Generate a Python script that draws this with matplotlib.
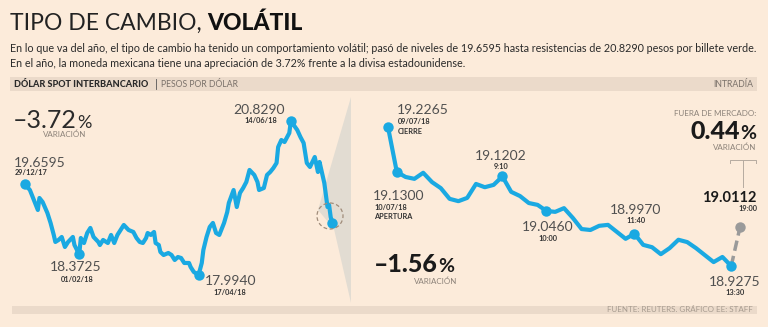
import matplotlib
matplotlib.use("Agg")
import matplotlib.pyplot as plt
import pandas as pd
from matplotlib.patches import Rectangle, Polygon, Circle

plt.rcParams['font.family'] = ['Lato', 'DejaVu Sans']

# ---- data: dólar spot interbancario (pesos por dólar) ----
fechas = ['2017-12-29', '2018-01-01', '2018-01-03', '2018-01-06', '2018-01-07', '2018-01-09',
          '2018-01-12', '2018-01-14', '2018-01-16', '2018-01-17', '2018-01-19', '2018-01-21',
          '2018-01-23', '2018-01-25', '2018-01-28', '2018-01-29', '2018-02-01', '2018-02-02',
          '2018-02-04', '2018-02-06', '2018-02-08', '2018-02-10', '2018-02-13', '2018-02-14',
          '2018-02-16', '2018-02-19', '2018-02-21', '2018-02-23', '2018-02-25', '2018-02-27',
          '2018-03-01', '2018-03-04', '2018-03-07', '2018-03-09', '2018-03-11', '2018-03-13',
          '2018-03-15', '2018-03-16', '2018-03-18', '2018-03-20', '2018-03-21', '2018-03-23',
          '2018-03-24', '2018-03-26', '2018-03-29', '2018-03-31', '2018-04-02', '2018-04-04',
          '2018-04-06', '2018-04-08', '2018-04-11', '2018-04-12', '2018-04-14', '2018-04-17',
          '2018-04-19', '2018-04-20', '2018-04-22', '2018-04-24', '2018-04-26', '2018-04-28',
          '2018-04-30', '2018-05-03', '2018-05-05', '2018-05-06', '2018-05-09', '2018-05-11',
          '2018-05-13', '2018-05-15', '2018-05-17', '2018-05-19', '2018-05-22', '2018-05-24',
          '2018-05-25', '2018-05-28', '2018-05-30', '2018-06-01', '2018-06-03', '2018-06-05',
          '2018-06-06', '2018-06-08', '2018-06-10', '2018-06-13', '2018-06-14', '2018-06-18',
          '2018-06-20', '2018-06-22', '2018-06-24', '2018-06-26', '2018-06-29', '2018-07-01',
          '2018-07-02', '2018-07-05', '2018-07-07', '2018-07-08', '2018-07-09', '2018-07-10']
precio = [19.6595, 19.558, 19.411, 19.190, 19.411, 19.337,
          19.135, 18.951, 18.730, 18.601, 18.638, 18.693,
          18.509, 18.601, 18.693, 18.545, 18.3725, 18.674,
          18.582, 18.766, 18.859, 18.693, 18.601, 18.545,
          18.638, 18.582, 18.730, 18.582, 18.730, 18.822,
          18.914, 18.822, 18.785, 18.674, 18.601, 18.582,
          18.674, 18.766, 18.730, 18.785, 18.582, 18.545,
          18.417, 18.361, 18.398, 18.361, 18.269, 18.324,
          18.306, 18.214, 18.214, 18.140, 18.048, 17.994,
          18.214, 18.453, 18.693, 18.877, 18.951, 18.766,
          18.730, 18.951, 19.153, 19.319, 19.558, 19.245,
          19.503, 19.595, 19.706, 19.927, 19.835, 19.706,
          19.558, 19.595, 19.835, 19.890, 19.963, 20.056,
          20.350, 20.479, 20.442, 20.608, 20.829, 20.663,
          20.534, 20.424, 20.056, 19.982, 20.166, 19.890,
          20.074, 19.687, 19.245, 19.282, 19.061, 18.951]
hitos_fecha = ['2017-12-29', '2018-02-01', '2018-04-17', '2018-06-14', '2018-07-10']

# ---- intradía ----
horas = ['09/07 cierre', '7:10', '7:20', '7:30', '7:40', '7:50', '8:00', '8:10', '8:20', '8:30',
         '8:40', '8:50', '9:00', '9:10', '9:20', '9:30', '9:40', '9:50', '10:00', '10:10',
         '10:20', '10:30', '10:40', '10:50', '11:00', '11:10', '11:20', '11:30', '11:40', '11:50',
         '12:00', '12:10', '12:20', '12:30', '12:40', '12:50', '13:00', '13:10', '13:20', '13:30']
intradia = [19.2265, 19.1300, 19.119, 19.115, 19.128, 19.108, 19.095, 19.072, 19.067, 19.074,
            19.104, 19.097, 19.102, 19.1202, 19.087, 19.078, 19.063, 19.059, 19.046, 19.044,
            19.052, 19.031, 19.007, 19.005, 19.014, 19.016, 19.001, 18.986, 18.997, 18.973,
            18.968, 18.953, 18.966, 18.984, 18.979, 18.966, 18.951, 18.936, 18.947, 18.9275]
hitos_hora = ['09/07 cierre', '7:10', '9:10', '10:00', '11:40', '13:30']
fuera_hora = '19:00'
fuera_valor = 19.0112

BG = '#FCEBDA'
BAND = '#EBDACA'
BLUE = '#1AA9E2'
DARK = '#333333'
GREY = '#8C8279'
NUM = '#505050'

fig = plt.figure(figsize=(7.68, 3.27), dpi=100, facecolor=BG)

# background layer (pixel coordinates)
bg = fig.add_axes([0, 0, 1, 1], zorder=0)
bg.set_xlim(0, 768)
bg.set_ylim(327, 0)
bg.axis('off')
bg.add_patch(Rectangle((10, 77), 747, 13.5, color=BAND, lw=0))
bg.add_patch(Rectangle((12, 306), 745, 7.5, color=BAND, lw=0))
bg.add_patch(Polygon([(351, 97), (318, 210), (334, 229), (351, 303)], closed=True,
                     color='#E2DCD2', lw=0))

# ---- left chart ----
fx = pd.to_datetime(fechas)
axl = fig.add_axes([10 / 768, 1 - 305 / 327, 335 / 768, 210 / 327], zorder=2)
axl.patch.set_alpha(0)
axl.plot(fx, precio, color=BLUE, lw=3.0, solid_joinstyle='round', solid_capstyle='round')
hx = pd.to_datetime(hitos_fecha)
hv = [precio[list(fx).index(d)] for d in hx]
axl.plot(hx, hv, 'o', color=BLUE, ms=7.5, mew=0)
axl.set_xlim(fx[0] - pd.Timedelta(days=9.5), fx[-1] + pd.Timedelta(days=8))
axl.set_ylim(17.44, 21.308)
axl.axis('off')

# ---- right chart ----
axr = fig.add_axes([352 / 768, 1 - 305 / 327, 405 / 768, 210 / 327], zorder=2)
axr.patch.set_alpha(0)
ix = list(range(len(horas)))
axr.plot(ix, intradia, color=BLUE, lw=3.0, solid_joinstyle='round', solid_capstyle='round')
hix = [horas.index(h) for h in hitos_hora]
axr.plot(hix, [intradia[i] for i in hix], 'o', color=BLUE, ms=7.5, mew=0)
axr.plot([ix[-1], ix[-1] + 1], [intradia[-1], fuera_valor], color='#9A9A9A', lw=2.5,
         ls=(0, (3, 1.5)), zorder=1)
axr.plot([ix[-1] + 1], [fuera_valor], 'o', color='#9A9A9A', ms=7.5, mew=0)
axr.set_xlim(-4.09, 41.93)
axr.set_ylim(18.8437, 19.2953)
axr.axis('off')

# ---- text / overlay ----
ov = fig.add_axes([0, 0, 1, 1], zorder=3)
ov.set_xlim(0, 768)
ov.set_ylim(327, 0)
ov.axis('off')
ov.add_patch(Circle((330, 216), 13, fill=False, ec='#A08C7A', lw=0.9, ls=(0, (3, 2))))
renderer = fig.canvas.get_renderer()


def t(x, y, s, size, ha='left', color=DARK, weight='normal', va='baseline'):
    return ov.text(x, y, s, fontsize=size, ha=ha, va=va, color=color, fontweight=weight)


def after(prev, s, size, gap=0, color=DARK, weight='normal'):
    bb = prev.get_window_extent(renderer)
    x = bb.x1 + gap
    y = prev.get_position()[1]
    return ov.text(x, y, s, fontsize=size, ha='left', va='baseline', color=color,
                   fontweight=weight)


t1 = t(10, 30, 'TIPO DE CAMBIO,', 16.5, color='#222222')
after(t1, 'VOLÁTIL', 16.5, gap=5, color='#111111', weight='black')
t(10, 52, 'En lo que va del año, el tipo de cambio ha tenido un comportamiento volátil; pasó de niveles '
          'de 19.6595 hasta resistencias de 20.8290 pesos por billete verde.', 7.75, color='#2a2a2a')
t(10, 67, 'En el año, la moneda mexicana tiene una apreciación de 3.72% frente a la divisa estadounidense.',
  7.75, color='#2a2a2a')

t(14, 87, 'DÓLAR SPOT INTERBANCARIO', 6.6, color='#2a2a2a', weight='black')
ov.plot([156, 156], [79, 89], color='#555555', lw=0.6)
t(161, 87, 'PESOS POR DÓLAR', 6.2, color='#7a716a')
t(753, 87, 'INTRADÍA', 6.2, ha='right', color='#7a716a')
t(753, 312.5, 'FUENTE: REUTERS. GRÁFICO EE: STAFF', 5.8, ha='right', color='#A89C90')

# left labels
p1 = t(13, 128, '–3.72', 18, color='#2a2a2a')
after(p1, '%', 13, gap=0, color='#2a2a2a')
t(86, 137, 'VARIACIÓN', 5.8, ha='right', color=GREY)
t(14, 167, '19.6595', 10, color=NUM)
t(15, 175, '29/12/17', 5.3, color=DARK, weight='bold')
t(76, 271, '18.3725', 10, ha='center', color=NUM)
t(77, 282, '01/02/18', 5.3, ha='center', color=DARK, weight='bold')
t(205, 285, '17.9940', 10, color=NUM)
t(230, 295, '17/04/18', 5.3, ha='center', color=DARK, weight='bold')
t(259, 114, '20.8290', 10, ha='center', color=NUM)
t(261, 123, '14/06/18', 5.3, ha='center', color=DARK, weight='bold')

# right labels
t(397, 114, '19.2265', 10, color=NUM)
t(398, 124, '09/07/18', 5.3, color=DARK, weight='bold')
t(398, 134, 'CIERRE', 5.3, color=DARK, weight='bold')
t(373, 200, '19.1300', 10, color=NUM)
t(374, 210, '10/07/18', 5.3, color=DARK, weight='bold')
t(374, 219, 'APERTURA', 5.3, color=DARK, weight='bold')
t(501, 160, '19.1202', 10, ha='center', color=NUM)
t(501, 169, '9:10', 5.3, ha='center', color=DARK, weight='bold')
t(548, 231, '19.0460', 10, ha='center', color=NUM)
t(548, 241, '10:00', 5.3, ha='center', color=DARK, weight='bold')
t(636, 214, '18.9970', 10, ha='center', color=NUM)
t(636, 223, '11:40', 5.3, ha='center', color=DARK, weight='bold')
t(735, 286, '18.9275', 10, ha='center', color=NUM)
t(735, 295, '13:30', 5.3, ha='center', color=DARK, weight='bold')
p2 = t(374, 272, '–1.56', 18, color='#1a1a1a', weight='black')
after(p2, '%', 14, gap=0, color='#1a1a1a', weight='bold')
t(457, 284, 'VARIACIÓN', 5.8, ha='right', color=GREY)

t(756, 116, 'FUERA DE MERCADO:', 5.8, ha='right', color=GREY)
pc = t(756, 139, '%', 14, ha='right', color='#1a1a1a', weight='bold')
pc_w = pc.get_window_extent(renderer).width
t(756 - pc_w, 139, '0.44', 18, ha='right', color='#1a1a1a', weight='black')
t(756, 150, 'VARIACIÓN', 5.8, ha='right', color=GREY)
ov.plot([730, 730, 756, 756], [163, 160, 160, 163], color='#B5AAA0', lw=0.7)
ov.plot([743, 743], [160, 187], color='#B5AAA0', lw=0.7)
t(756, 202, '19.0112', 10.5, ha='right', color='#1a1a1a', weight='bold')
t(748, 211, fuera_hora, 5.3, ha='center', color=DARK, weight='bold')

fig.savefig('out.png', dpi=100, facecolor=BG)
